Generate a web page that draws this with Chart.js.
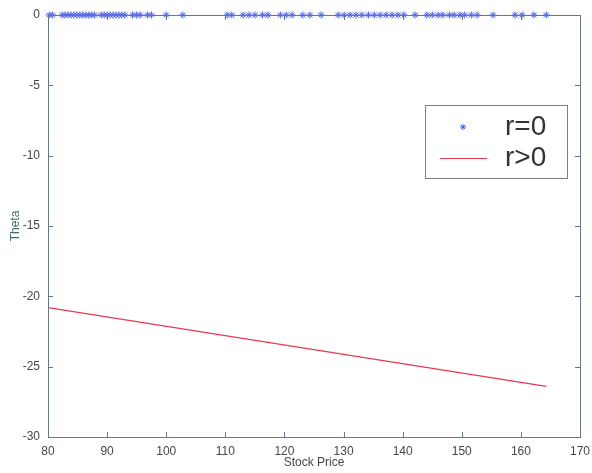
<!DOCTYPE html>
<html>
<head>
<meta charset="utf-8">
<script src="https://cdn.jsdelivr.net/npm/chart.js@4/dist/chart.umd.min.js"></script>
<style>
  html, body { margin: 0; padding: 0; background: #ffffff; }
  #wrap { width: 592px; height: 473px; }
</style>
</head>
<body>
<div id="wrap"><canvas id="c" width="592" height="473"></canvas></div>
<script>
// Stock prices where r = 0 (theta is zero there)
const zeroRatePrices = [
  80.2, 80.8, 82.4, 82.9, 83.4, 83.9, 84.4, 84.9, 85.4, 85.9, 86.4, 86.9, 87.4, 87.9,
  89.0, 89.5, 90.0, 90.5, 91.0, 91.5, 92.0, 92.5, 93.0, 94.3, 95.0, 95.6, 96.8, 97.5,
  100.0, 102.8, 110.3, 111.1, 113.0, 114.0, 115.0, 116.3, 117.2, 119.3, 120.3, 121.3,
  123.1, 124.3, 126.2, 129.1, 130.1, 131.1, 132.1, 133.1, 134.2, 135.2, 136.2, 137.2,
  138.2, 139.2, 140.2, 142.1, 144.1, 145.0, 146.0, 146.8, 147.9, 148.7, 149.7, 150.5,
  151.6, 152.6, 155.3, 159.0, 160.2, 162.2, 164.3
];
const zeroRateTheta = zeroRatePrices.map(() => 0);

// Theta for r > 0
const positiveRatePrices = [80, 164.3];
const positiveRateTheta = [-20.8, -26.4];

const xTicks = [80, 90, 100, 110, 120, 130, 140, 150, 160, 170];
const yTicks = [-30, -25, -20, -15, -10, -5, 0];

const seriesNames = ['r=0', 'r>0'];

const starColor = '#4b5fe0';
const lineColor = '#e8374f';
const axisColor = '#66778a';
const labelColor = '#474747';

// Box around the axes with inward ticks on all four sides
const boxAxes = {
  id: 'boxAxes',
  afterDatasetsDraw(chart) {
    const { ctx, chartArea: a, scales: { x, y } } = chart;
    ctx.save();
    ctx.strokeStyle = axisColor;
    ctx.lineWidth = 1;
    ctx.strokeRect(a.left + 0.5, a.top + 0.5, a.right - a.left, a.bottom - a.top);
    const len = 5;
    ctx.beginPath();
    x.ticks.forEach(t => {
      const px = Math.round(x.getPixelForValue(t.value)) + 0.5;
      ctx.moveTo(px, a.bottom); ctx.lineTo(px, a.bottom - len);
      ctx.moveTo(px, a.top); ctx.lineTo(px, a.top + len);
    });
    y.ticks.forEach(t => {
      const py = Math.round(y.getPixelForValue(t.value)) + 0.5;
      ctx.moveTo(a.left, py); ctx.lineTo(a.left + len, py);
      ctx.moveTo(a.right, py); ctx.lineTo(a.right - len, py);
    });
    ctx.stroke();
    ctx.restore();
  }
};

// Boxed legend inside the plot area
const boxLegend = {
  id: 'boxLegend',
  afterDraw(chart) {
    const ctx = chart.ctx;
    const bx = 425, by = 105, bw = 142, bh = 73;
    ctx.save();
    ctx.fillStyle = '#ffffff';
    ctx.fillRect(bx, by, bw, bh);
    ctx.strokeStyle = '#7a7f8a';
    ctx.lineWidth = 1;
    ctx.strokeRect(bx + 0.5, by + 0.5, bw, bh);

    const ds0 = chart.data.datasets[0];
    const ds1 = chart.data.datasets[1];
    ctx.strokeStyle = ds0.borderColor;
    ctx.fillStyle = ds0.backgroundColor;
    Chart.helpers.drawPoint(ctx, {
      pointStyle: 'star', radius: 3, borderWidth: 1
    }, 463, 127);

    ctx.strokeStyle = ds1.borderColor;
    ctx.lineWidth = 1;
    ctx.beginPath();
    ctx.moveTo(440, 158.5); ctx.lineTo(487, 158.5);
    ctx.stroke();

    ctx.fillStyle = '#333333';
    ctx.font = '28px "Liberation Sans", Arial, sans-serif';
    ctx.textBaseline = 'middle';
    ctx.textAlign = 'left';
    ctx.fillText(ds0.label, 505, 127);
    ctx.fillText(ds1.label, 505, 158);
    ctx.restore();
  }
};

new Chart(document.getElementById('c'), {
  type: 'scatter',
  data: {
    datasets: [
      {
        label: seriesNames[0],
        data: zeroRatePrices.map((p, i) => ({ x: p, y: zeroRateTheta[i] })),
        pointStyle: 'star',
        pointRadius: 3.5,
        borderColor: starColor,
        backgroundColor: starColor,
        borderWidth: 1,
        showLine: false,
        clip: false
      },
      {
        label: seriesNames[1],
        data: positiveRatePrices.map((p, i) => ({ x: p, y: positiveRateTheta[i] })),
        borderColor: lineColor,
        backgroundColor: lineColor,
        borderWidth: 1.2,
        pointRadius: 0,
        showLine: true,
        tension: 0
      }
    ]
  },
  options: {
    responsive: false,
    animation: false,
    devicePixelRatio: 1,
    layout: { padding: { top: 15, right: 12, left: 0, bottom: 0 } },
    plugins: {
      legend: { display: false },
      tooltip: { enabled: false }
    },
    scales: {
      x: {
        type: 'linear',
        min: 80, max: 170,
        afterBuildTicks: s => { s.ticks = xTicks.map(v => ({ value: v })); },
        ticks: {
          padding: 7,
          color: labelColor,
          font: { family: '"Liberation Sans", Arial, sans-serif', size: 12 },
          maxRotation: 0
        },
        grid: { display: false, drawTicks: false },
        border: { display: false },
        title: {
          display: true,
          text: 'Stock Price',
          color: labelColor,
          font: { family: '"Liberation Sans", Arial, sans-serif', size: 12 },
          padding: { top: 0, bottom: 3 }
        },
        afterFit: s => { s.height = 36; s.paddingLeft = 0; s.paddingRight = 0; }
      },
      y: {
        type: 'linear',
        min: -30, max: 0,
        afterBuildTicks: s => { s.ticks = yTicks.map(v => ({ value: v })); },
        ticks: {
          padding: 8,
          color: labelColor,
          font: { family: '"Liberation Sans", Arial, sans-serif', size: 12 }
        },
        grid: { display: false, drawTicks: false },
        border: { display: false },
        title: {
          display: true,
          text: 'Theta',
          color: '#3d6f66',
          font: { family: '"Liberation Sans", Arial, sans-serif', size: 12 },
          padding: { top: 8, bottom: 0 }
        },
        afterFit: s => { s.width = 48; s.paddingTop = 0; s.paddingBottom = 0; }
      }
    }
  },
  plugins: [boxAxes, boxLegend]
});
</script>
</body>
</html>
